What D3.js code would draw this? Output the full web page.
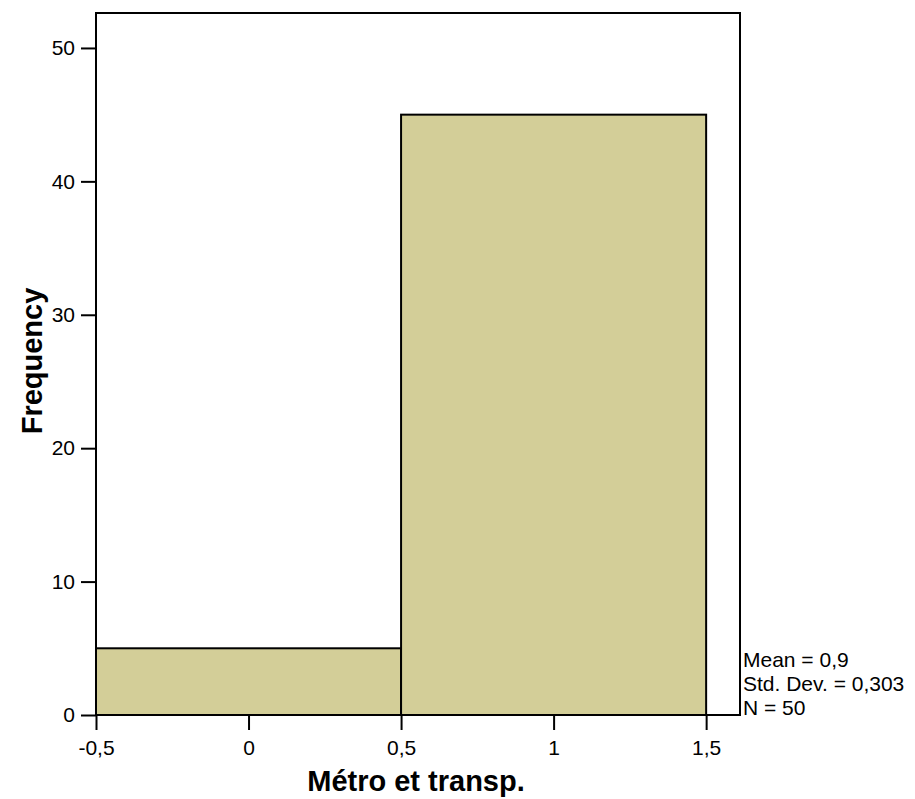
<!DOCTYPE html>
<html><head><meta charset="utf-8">
<script src="https://cdn.jsdelivr.net/npm/d3@7"></script>
<style>body{margin:0;background:#fff}svg{display:block}text{font-family:"Liberation Sans",Arial,sans-serif}</style>
</head><body><svg id="c" width="915" height="799"></svg>
<script>
const binStarts = [-0.5, 0.5];
const binEnds = [0.5, 1.5];
const frequencies = [5, 45];
const xTicks = [-0.5, 0, 0.5, 1, 1.5];
const xTickLabels = ["-0,5", "0", "0,5", "1", "1,5"];
const yTicks = [0, 10, 20, 30, 40, 50];
const stats = ["Mean = 0,9", "Std. Dev. = 0,303", "N = 50"];
const xTitle = "Métro et transp.";
const yTitle = "Frequency";

const svg = d3.select("#c");
const L = 96, R = 740, T = 13, B = 715;
const x = d3.scaleLinear().domain([-0.5, 1.611]).range([L, R]);
const y = d3.scaleLinear().domain([0, 52.62]).range([B, T]);

// bars
svg.append("g").selectAll("rect").data(frequencies).join("rect")
  .attr("x", (d,i)=>x(binStarts[i])).attr("width",(d,i)=>x(binEnds[i])-x(binStarts[i]))
  .attr("y", d=>y(d)).attr("height", d=>y(0)-y(d))
  .attr("fill","#d3ce98").attr("stroke","#000").attr("stroke-width",2);

// frame
svg.append("rect").attr("x",L).attr("y",T).attr("width",R-L).attr("height",B-T)
  .attr("fill","none").attr("stroke","#000").attr("stroke-width",2);

// y axis
const ya = svg.append("g").attr("transform",`translate(${L},0)`)
  .call(d3.axisLeft(y).tickValues(yTicks).tickSize(15).tickPadding(6).tickFormat(d3.format("d")));
ya.attr("font-size",null).attr("font-family",null);
ya.select(".domain").remove();
ya.selectAll("line").attr("stroke","#000").attr("stroke-width",2);
ya.selectAll("text").attr("font-size",21).attr("fill","#000");

// x axis
const xa = svg.append("g").attr("transform",`translate(0,${B})`)
  .call(d3.axisBottom(x).tickValues(xTicks).tickSize(15).tickPadding(10).tickFormat((d,i)=>xTickLabels[i]));
xa.attr("font-size",null).attr("font-family",null);
xa.select(".domain").remove();
xa.selectAll("line").attr("stroke","#000").attr("stroke-width",2);
xa.selectAll("text").attr("font-size",21).attr("fill","#000");

// titles
svg.append("text").attr("x",416).attr("y",791).attr("text-anchor","middle")
  .attr("font-size",29).attr("font-weight","bold").text(xTitle);
svg.append("text").attr("transform","translate(42,361) rotate(-90)").attr("text-anchor","middle")
  .attr("font-size",29).attr("font-weight","bold").text(yTitle);

// stats
svg.append("g").selectAll("text").data(stats).join("text")
  .attr("x",743).attr("y",(d,i)=>667+i*24).attr("font-size",21).text(d=>d);
</script></body></html>
